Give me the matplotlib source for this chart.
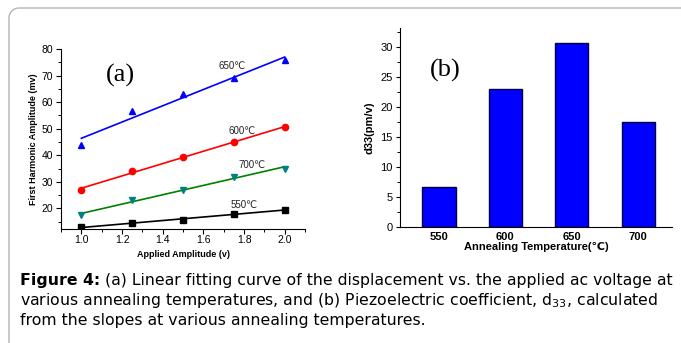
import numpy as np
import matplotlib
matplotlib.use("Agg")
import matplotlib.pyplot as plt
from matplotlib.lines import Line2D
from matplotlib.ticker import MultipleLocator

plt.rcParams["font.family"] = ["Liberation Sans", "DejaVu Sans"]
plt.rcParams["mathtext.fontset"] = "custom"
plt.rcParams["mathtext.rm"] = "DejaVu Sans"

# panel (a): first harmonic amplitude vs applied amplitude
amplitude = [1.0, 1.25, 1.5, 1.75, 2.0]
temps_a = ["550℃", "600℃", "650℃", "700℃"]
harmonic_550 = [13.0, 14.5, 15.5, 18.0, 19.5]
harmonic_600 = [27.0, 34.0, 39.5, 45.0, 50.5]
harmonic_650 = [44.0, 56.5, 63.0, 69.0, 76.0]
harmonic_700 = [17.5, 23.0, 27.0, 32.0, 35.0]

# panel (b): d33 per annealing temperature
temps_b = ["550", "600", "650", "700"]
d33 = [6.7, 22.9, 30.6, 17.5]

caption_head = "Figure 4:"
caption = [
    " (a) Linear fitting curve of the displacement vs. the applied ac voltage at",
    r"various annealing temperatures, and (b) Piezoelectric coefficient, d$_{33}$, calculated",
    "from the slopes at various annealing temperatures.",
]

fig = plt.figure(figsize=(6.81, 3.43), dpi=100)

# ---- (a)
ax = fig.add_axes([0.0896, 0.332, 0.3584, 0.525])
series = [
    (harmonic_550, "black", "black", "s", (1.80, 21.4)),
    (harmonic_600, "red", "red", "o", (1.79, 49.2)),
    (harmonic_650, "blue", "blue", "^", (1.74, 73.7)),
    (harmonic_700, "#008000", "#008080", "v", (1.84, 36.3)),
]
x = np.array(amplitude)
for (vals, lc, mc, mk, pos), lab in zip(series, temps_a):
    k, b = np.polyfit(x, vals, 1)
    ax.plot(x, k * x + b, color=lc, lw=1.2)
    ax.plot(x, vals, ls="none", marker=mk, color=mc, ms=4.5)
    ax.text(pos[0], pos[1], lab, fontsize=7, ha="center", va="center", color="#222222")

ax.text(1.19, 70.2, "(a)", family="Liberation Serif", fontsize=19, ha="center", va="center")
ax.set_xlim(0.9, 2.1)
ax.set_ylim(12.2, 80)
ax.xaxis.set_major_locator(MultipleLocator(0.2))
ax.xaxis.set_minor_locator(MultipleLocator(0.1))
ax.yaxis.set_major_locator(MultipleLocator(10))
ax.yaxis.set_minor_locator(MultipleLocator(5))
ax.set_yticks(range(20, 81, 10))
ax.tick_params(which="major", direction="out", length=3.5, width=0.8, labelsize=7.5, pad=2)
ax.tick_params(axis="x", which="major", pad=1)
ax.tick_params(which="minor", direction="out", length=2, width=0.7)
for s in ["top", "right"]:
    ax.spines[s].set_visible(False)
ax.set_xlabel("Applied Amplitude (v)", fontsize=6.5, fontweight="bold", labelpad=3)
ax.set_ylabel("First Harmonic Amplitude (mv)", fontsize=6.5, fontweight="bold", labelpad=3)

# ---- (b)
bx = fig.add_axes([0.587, 0.339, 0.40, 0.579])
pos_b = np.arange(len(temps_b))
bx.bar(pos_b, d33, width=0.5, color="#0000ff", edgecolor="#000040", lw=1)
bx.text(0.1, 26, "(b)", family="Liberation Serif", fontsize=19, ha="center", va="center")
bx.set_xlim(-0.59, 3.51)
bx.set_ylim(0, 33.1)
bx.set_xticks(pos_b)
bx.set_xticklabels(temps_b, fontweight="bold")
bx.xaxis.set_minor_locator(MultipleLocator(0.5))
bx.yaxis.set_major_locator(MultipleLocator(5))
bx.yaxis.set_minor_locator(MultipleLocator(2.5))
bx.tick_params(which="major", direction="out", length=3, width=0.8, labelsize=8, pad=2)
bx.tick_params(which="minor", direction="out", length=2, width=0.7)
bx.tick_params(axis="x", which="both", length=0, pad=4)
for s in ["top", "right"]:
    bx.spines[s].set_visible(False)
bx.set_xlabel("Annealing Temperature(℃)", fontsize=8, fontweight="bold", labelpad=0)
bx.set_ylabel("d33(pm/v)", fontsize=8, fontweight="bold", labelpad=4)

# caption
cap_font = dict(family=["DejaVu Sans"], fontsize=11.35, va="center", ha="left")
renderer = fig.canvas.get_renderer()
head = fig.text(20 / 681, 1 - 280 / 343, caption_head, fontweight="bold", **cap_font)
hw = head.get_window_extent(renderer).width
fig.text((20 + hw) / 681, 1 - 280 / 343, caption[0], **cap_font)
for i, line in enumerate(caption[1:], start=1):
    fig.text(20 / 681, 1 - (280 + 20.5 * i) / 343, line, **cap_font)

# frame: only top and left edges, rounded top-left corner
W, H = 681.0, 343.0
t = np.linspace(np.pi, np.pi / 2, 12)
corner_x = 19 + 10 * np.cos(t)
corner_y = 325 + 10 * np.sin(t)
fx = np.concatenate([[9], corner_x, [W]]) / W
fy = np.concatenate([[0], corner_y, [335]]) / H
fig.add_artist(Line2D(fx, fy, transform=fig.transFigure, color="#b4b4b4", lw=1))

fig.savefig("out.png", dpi=100)
